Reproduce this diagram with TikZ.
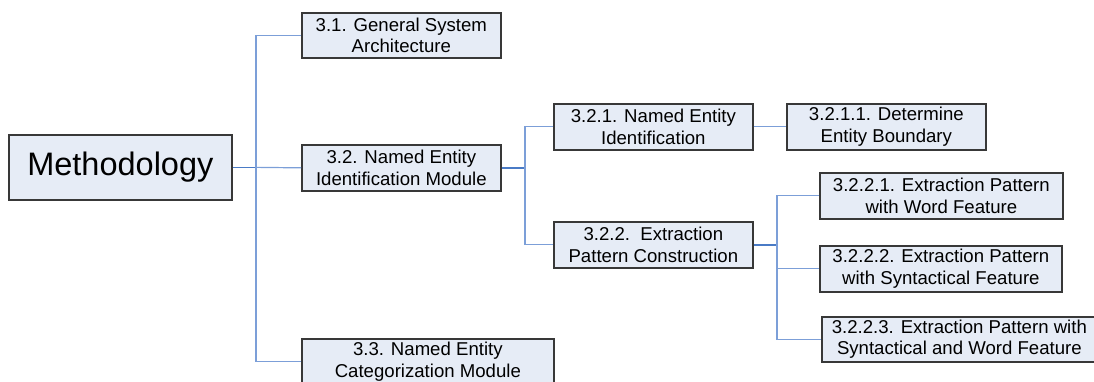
\documentclass[tikz,border=0pt]{standalone}
\usepackage{fontspec}
\setmainfont{Liberation Sans}
\definecolor{boxfill}{HTML}{E6ECF6}
\definecolor{boxedge}{HTML}{383838}
\definecolor{linkdark}{HTML}{4A7BC6}
\definecolor{linklight}{HTML}{7C9FD8}
\tikzset{
  box/.style={draw=boxedge, fill=boxfill, line width=1.7pt, align=center,
    inner sep=0pt, anchor=north west,
    font=\fontsize{18.6}{21.5}\selectfont},
  bigbox/.style={box, font=\fontsize{32.5}{36}\selectfont},
  parentlink/.style={draw=linkdark, line width=1.5pt},
  childlink/.style={draw=linklight, line width=1.2pt},
}
\begin{document}
\begin{tikzpicture}[x=1pt, y=-1pt]
\useasboundingbox (0,0) rectangle (1094,382);
\begin{scope}
\clip (0,0) rectangle (1094,382);
% boxes of the outline, placed by their top left corners
\node[bigbox, minimum width=223pt, minimum height=65pt] (meth) at (8,134) {Methodology};
\node[box, minimum width=199pt, minimum height=45pt] (n31) at (301,12) {3.1. General System\\Architecture};
\node[box, minimum width=199pt, minimum height=46pt] (n32) at (301,144) {3.2. Named Entity\\Identification Module};
\node[box, minimum width=252pt, minimum height=46pt] (n33) at (301,338) {3.3. Named Entity\\Categorization Module};
\node[box, minimum width=199pt, minimum height=46pt] (n321) at (553,103) {3.2.1. Named Entity\\Identification};
\node[box, minimum width=199pt, minimum height=46pt] (n3211) at (786,103) {3.2.1.1. Determine\\Entity Boundary};
\node[box, minimum width=199pt, minimum height=46pt] (n322) at (553,221) {3.2.2.\ \ Extraction\\Pattern Construction};
\node[box, minimum width=243pt, minimum height=46pt] (n3221) at (819,172) {3.2.2.1. Extraction Pattern\\with Word Feature};
\node[box, minimum width=242pt, minimum height=46pt] (n3222) at (819,245) {3.2.2.2. Extraction Pattern\\with Syntactical Feature};
\node[box, minimum width=275pt, minimum height=45pt] (n3223) at (821,316) {3.2.2.3. Extraction Pattern with\\Syntactical and Word Feature};

% level 1
\coordinate (j1) at (256,0);
\draw[parentlink] (meth.east) -- (meth.east -| j1);
\draw[childlink] (meth.east -| j1) -- (n32.west);
\draw[childlink] (n31.west) -| (j1 |- n33.west) -- (n33.west);
% level 2
\coordinate (j2) at (525,0);
\draw[parentlink] (n32.east) -- (n32.east -| j2);
\draw[childlink] (n321.west) -| (j2 |- n322.west) -- (n322.west);
% level 3
\draw[childlink] (n321.east) -- (n3211.west);
\coordinate (j3) at (777,0);
\draw[parentlink] (n322.east) -- (n322.east -| j3);
\draw[childlink] (n3221.west) -| (j3 |- n3223.west) -- (n3223.west);
\draw[childlink] (j3 |- n3222.west) -- (n3222.west);
\end{scope}
\end{tikzpicture}
\end{document}
